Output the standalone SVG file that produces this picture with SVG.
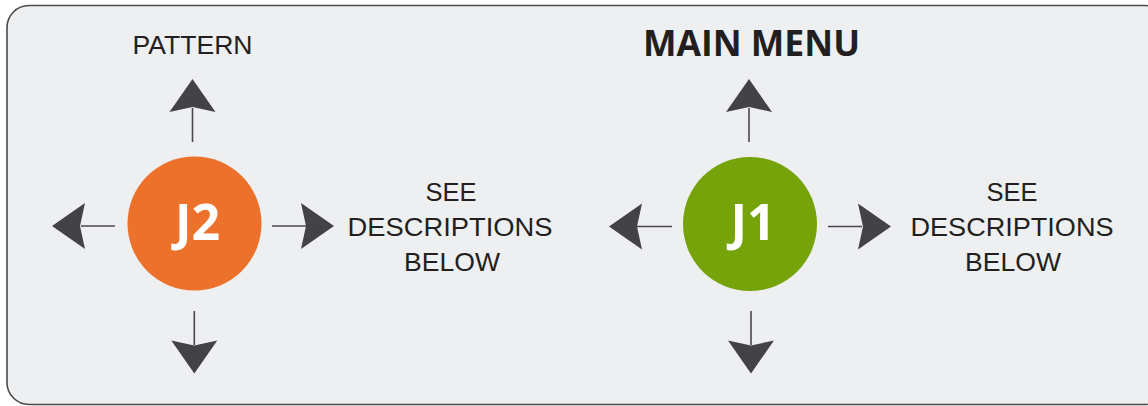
<svg xmlns="http://www.w3.org/2000/svg" width="1148" height="406" viewBox="0 0 1148 406">
<style>
.frame{fill:#eeeff1;stroke:#4a4a4c;stroke-width:1.6}
.shaft{stroke:#48484b;stroke-width:1.6;fill:none}
.head{fill:#434346}
.lbl{font-family:"Liberation Sans",Arial,sans-serif;font-size:26.5px;fill:#231f20;text-anchor:middle}
.title{font-family:"Open Sans","DejaVu Sans",sans-serif;font-weight:bold;font-size:36.5px;fill:#231f20;text-anchor:middle}
.jt{font-family:"Open Sans","DejaVu Sans",sans-serif;font-weight:bold;font-size:50px;fill:#ffffff;text-anchor:middle}
</style>
<defs>
<path id="headUp" d="M0,0 L23,33 L0,28 L-23,33 Z"/>
</defs>
<rect class="frame" x="7" y="5.5" width="1160" height="399" rx="22" ry="22"/>

<g id="connectors">
  <!-- J2 arrows -->
  <line class="shaft" x1="192.5" y1="108" x2="192.5" y2="142"/>
  <use href="#headUp" class="head" transform="translate(192.5,79)"/>
  <line class="shaft" x1="81" y1="226" x2="115" y2="226"/>
  <use href="#headUp" class="head" transform="translate(52,226) rotate(-90)"/>
  <line class="shaft" x1="272" y1="226" x2="306" y2="226"/>
  <use href="#headUp" class="head" transform="translate(334,226) rotate(90)"/>
  <line class="shaft" x1="194.3" y1="311" x2="194.3" y2="345"/>
  <use href="#headUp" class="head" transform="translate(194.3,373.5) rotate(180)"/>
  <!-- J1 arrows -->
  <line class="shaft" x1="749" y1="108" x2="749" y2="142"/>
  <use href="#headUp" class="head" transform="translate(749,79)"/>
  <line class="shaft" x1="637" y1="226.5" x2="672" y2="226.5"/>
  <use href="#headUp" class="head" transform="translate(609,226.5) rotate(-90)"/>
  <line class="shaft" x1="828" y1="226.5" x2="862" y2="226.5"/>
  <use href="#headUp" class="head" transform="translate(891,226.5) rotate(90)"/>
  <line class="shaft" x1="751" y1="311" x2="751" y2="345"/>
  <use href="#headUp" class="head" transform="translate(751,373.5) rotate(180)"/>
</g>

<g id="J2">
  <circle cx="194.5" cy="223.5" r="67" fill="#ec722b"/>
  <text class="jt" x="197.5" y="240">J2</text>
</g>
<g id="J1">
  <circle cx="750" cy="224" r="67" fill="#76a30a"/>
  <text class="jt" x="753" y="240">J1</text>
</g>

<g id="label-pattern">
  <text class="lbl" x="192.5" y="53.5" textLength="120" lengthAdjust="spacingAndGlyphs">PATTERN</text>
</g>
<g id="label-main-menu">
  <text class="title" x="751.5" y="56" textLength="217" lengthAdjust="spacingAndGlyphs">MAIN MENU</text>
</g>
<g id="label-j2-right">
  <text class="lbl" x="451" y="201" textLength="51" lengthAdjust="spacingAndGlyphs">SEE</text>
  <text class="lbl" x="450" y="236" textLength="205" lengthAdjust="spacingAndGlyphs">DESCRIPTIONS</text>
  <text class="lbl" x="452" y="271" textLength="96" lengthAdjust="spacingAndGlyphs">BELOW</text>
</g>
<g id="label-j1-right">
  <text class="lbl" x="1012" y="201" textLength="51" lengthAdjust="spacingAndGlyphs">SEE</text>
  <text class="lbl" x="1012" y="236" textLength="203" lengthAdjust="spacingAndGlyphs">DESCRIPTIONS</text>
  <text class="lbl" x="1013" y="271" textLength="96" lengthAdjust="spacingAndGlyphs">BELOW</text>
</g>
</svg>
